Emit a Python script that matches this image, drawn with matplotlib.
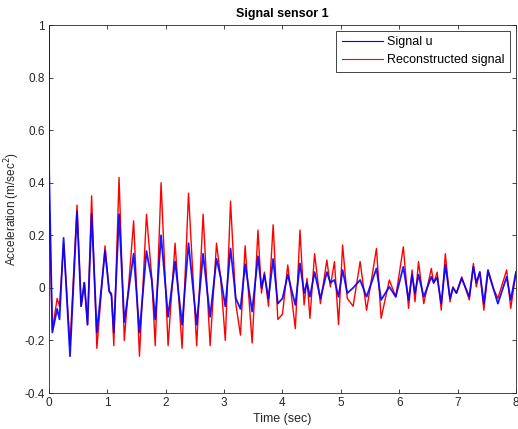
import matplotlib.pyplot as plt

# time stamps (sec) of the turning points
time_s = [
    0.0, 0.057, 0.14, 0.18, 0.25, 0.36, 0.48, 0.55, 0.605, 0.66,
    0.73, 0.82, 0.96, 1.03, 1.07, 1.11, 1.2, 1.29, 1.45, 1.55,
    1.67, 1.76, 1.82, 1.92, 2.04, 2.16, 2.28, 2.39, 2.53, 2.64,
    2.76, 2.87, 2.94, 3.02, 3.11, 3.2, 3.28, 3.36, 3.48, 3.58,
    3.64, 3.69, 3.76, 3.84, 3.92, 4.0, 4.09, 4.22, 4.30, 4.37,
    4.42, 4.47, 4.55, 4.65, 4.76, 4.82, 4.89, 4.96, 5.03, 5.11,
    5.21, 5.33, 5.44, 5.61, 5.69, 5.83, 5.94, 6.07, 6.16, 6.22,
    6.27, 6.33, 6.42, 6.55, 6.59, 6.65, 6.72, 6.79, 6.87, 6.92,
    6.98, 7.07, 7.20, 7.27, 7.32, 7.38, 7.45, 7.52, 7.61, 7.69,
    7.84, 7.91, 8.0,
]

reconstructed = [
    0.35, -0.16, -0.04, -0.07, 0.17, -0.22, 0.315, -0.07, 0.02, -0.14,
    0.35, -0.23, 0.16, -0.015, -0.02, -0.22, 0.42, -0.20, 0.255, -0.26,
    0.28, 0.04, -0.22, 0.40, -0.22, 0.17, -0.23, 0.36, -0.22, 0.28,
    -0.22, 0.17, 0.04, -0.20, 0.33, -0.06, -0.18, 0.16, -0.21, 0.22,
    -0.02, 0.06, -0.07, 0.24, -0.12, -0.10, 0.087, -0.155, 0.22, -0.065,
    0.036, -0.116, 0.13, -0.06, 0.106, 0.004, 0.10, -0.14, 0.163, -0.04,
    -0.07, 0.10, -0.085, 0.15, -0.116, 0.03, -0.034, 0.156, -0.078, 0.068,
    -0.053, 0.10, -0.06, 0.074, 0.017, 0.06, -0.085, 0.13, -0.053, 0.004,
    -0.02, 0.042, -0.046, 0.093, 0.004, 0.061, -0.085, 0.061, -0.002, -0.04,
    0.068, -0.078, 0.06,
]

# measured signal: starts at 1.0 at t=0, then follows the same turning points
signal_time = [0.0, 0.003] + time_s[1:]
signal_u = [
    1.0, 0.44, -0.17, -0.08, -0.12, 0.19, -0.26, 0.29, -0.07, 0.02, -0.14,
    0.28, -0.17, 0.14, -0.01, -0.03, -0.17, 0.28, -0.13, 0.13, -0.17,
    0.14, 0.03, -0.12, 0.20, -0.11, 0.10, -0.14, 0.17, -0.14, 0.13,
    -0.11, 0.11, 0.04, -0.07, 0.15, -0.04, -0.08, 0.09, -0.09, 0.12,
    0.0, 0.05, -0.04, 0.11, -0.06, -0.04, 0.05, -0.065, 0.093, -0.02,
    0.02, -0.034, 0.06, -0.04, 0.06, 0.02, 0.03, -0.034, 0.068, -0.02,
    0.0, 0.03, -0.034, 0.074, -0.046, 0.004, -0.034, 0.08, -0.046, 0.05,
    -0.02, 0.05, -0.034, 0.042, 0.02, 0.04, -0.06, 0.087, -0.04, 0.0,
    -0.02, 0.036, -0.034, 0.08, 0.02, 0.06, -0.06, 0.068, 0.0, -0.06,
    0.042, -0.046, 0.06,
]

x_ticks = [0, 1, 2, 3, 4, 5, 6, 7, 8]
y_ticks = [-0.4, -0.2, 0, 0.2, 0.4, 0.6, 0.8, 1]
y_tick_labels = ["-0.4", "-0.2", "0", "0.2", "0.4", "0.6", "0.8", "1"]


def main() -> None:
    plt.rcParams["font.family"] = ["Liberation Sans", "DejaVu Sans"]
    fig = plt.figure(figsize=(5.18, 4.29), dpi=100)
    ax = fig.add_axes([0.0946, 0.0839, 0.9015, 0.8578])

    red_line, = ax.plot(time_s, reconstructed, color="#ff0000", linewidth=1.0,
                        solid_joinstyle="round", zorder=2)
    blue_line, = ax.plot(signal_time, signal_u, color="#0000ff", linewidth=1.3,
                         alpha=0.9, solid_joinstyle="round", zorder=3)

    ax.set_xlim(0, 8)
    ax.set_ylim(-0.4, 1)
    ax.set_xticks(x_ticks)
    ax.set_yticks(y_ticks)
    ax.set_yticklabels(y_tick_labels)

    axis_gray = "#262626"
    for side in ax.spines.values():
        side.set_color(axis_gray)
        side.set_linewidth(0.6)
    ax.tick_params(direction="in", length=3, width=0.6, colors=axis_gray,
                   labelsize=8.5, top=True, right=True, pad=3)

    ax.set_xlabel("Time (sec)", fontsize=9, color=axis_gray, labelpad=3)
    ax.set_ylabel("Acceleration (m/sec$^2$)", fontsize=8.5, color=axis_gray, labelpad=2)
    ax.set_title("Signal sensor 1", fontsize=9, fontweight="bold", pad=6)

    leg = ax.legend([blue_line, red_line], ["Signal u", "Reconstructed signal"],
                    loc="upper right", fontsize=9, fancybox=False, framealpha=1,
                    borderaxespad=0.45, handlelength=3.3, borderpad=0.45,
                    labelspacing=0.45, handletextpad=0.35)
    leg.get_frame().set_edgecolor(axis_gray)
    leg.get_frame().set_linewidth(0.6)
    for line in leg.get_lines():
        line.set_linewidth(0.8)
        line.set_alpha(1)

    fig.savefig("out.png", dpi=100)


if __name__ == "__main__":
    main()
